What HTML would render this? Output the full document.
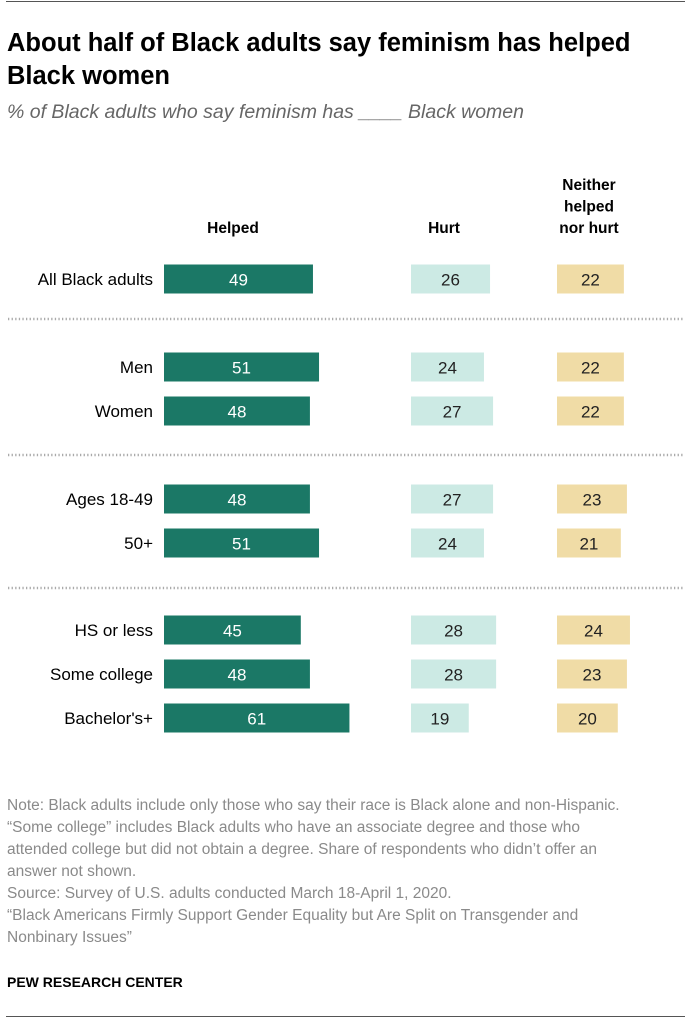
<!DOCTYPE html>
<html><head><meta charset="utf-8"><style>
body{margin:0;width:691px;height:1023px;background:#fff;font-family:"Liberation Sans",sans-serif;position:relative;overflow:hidden}
.abs{position:absolute}
</style></head><body>
<div class="abs" style="left:6px;top:1px;width:679px;height:1px;background:#555"></div>
<div class="abs" style="left:7px;top:27px;width:670px;font-size:25.5px;font-weight:bold;line-height:33px;color:#000">About half of Black adults say feminism has helped<br>Black women</div>
<div class="abs" style="left:7px;top:101px;font-size:19.5px;font-style:italic;color:#666">% of Black adults who say feminism has ____ Black women</div>
<svg class="abs" style="left:0;top:0" width="691" height="1023" id="chart"></svg>
<div class="abs" style="left:7px;top:795px;width:630px;font-size:15.5px;line-height:22px;color:#8a8a8a">Note: Black adults include only those who say their race is Black alone and non-Hispanic. “Some college” includes Black adults who have an associate degree and those who attended college but did not obtain a degree. Share of respondents who didn’t offer an answer not shown.<br>Source: Survey of U.S. adults conducted March 18-April 1, 2020.<br>“Black Americans Firmly Support Gender Equality but Are Split on Transgender and Nonbinary Issues”</div>
<div class="abs" style="left:7px;top:974px;font-size:14px;font-weight:bold;color:#000">PEW RESEARCH CENTER</div>
<div class="abs" style="left:6px;top:1016px;width:679px;height:1px;background:#555"></div>
<script>
const categories=["All Black adults","Men","Women","Ages 18-49","50+","HS or less","Some college","Bachelor's+"];
const helped=[49,51,48,48,51,45,48,61];
const hurt=[26,24,27,27,24,28,28,19];
const neither=[22,22,22,23,21,24,23,20];
const seriesNames=["Helped","Hurt","Neither helped nor hurt"];
const rowY=[279,367,411,499,543,630,674,718];
const sepY=[319,455,588];
const svg=document.getElementById('chart');
const NS='http://www.w3.org/2000/svg';
const scale=3.04;
const starts=[164,411,557];
const colors=['#1b7866','#cceae4','#f0dca6'];
const txtColors=['#fff','#222','#222'];
const series=[helped,hurt,neither];
function mk(t,a){const e=document.createElementNS(NS,t);for(const k in a)e.setAttribute(k,a[k]);svg.appendChild(e);return e;}
const hdr=[["Helped"],["Hurt"],["Neither","helped","nor hurt"]];
const hx=[233,444,589];
hdr.forEach((lines,i)=>{const t=mk('text',{x:hx[i],'text-anchor':'middle','font-size':15.5,'font-weight':'bold',fill:'#000'});


const y0=233-(lines.length-1)*21.5;
lines.forEach((l,j)=>{const s=document.createElementNS(NS,'tspan');s.setAttribute('x',hx[i]);s.setAttribute('y',y0+j*21.5);s.textContent=l;t.appendChild(s);});});
sepY.forEach((y,i)=>{const l=mk('line',{x1:8,x2:683,y1:y,y2:y,stroke:'#aaa','stroke-width':2.5,'stroke-dasharray':'1.3 2.3'});

});
categories.forEach((c,r)=>{const y=rowY[r];
const lb=mk('text',{x:153,y:y+6,'text-anchor':'end','font-size':17,fill:'#000'});lb.textContent=c;


series.forEach((s,k)=>{const w=s[r]*scale;
const rc=mk('rect',{x:starts[k],y:y-14.5,width:w,height:29,fill:colors[k]});


const t=mk('text',{x:starts[k]+w/2,y:y+6.5,'text-anchor':'middle','font-size':17,fill:txtColors[k]});t.textContent=s[r];

});});
</script>
</body></html>
